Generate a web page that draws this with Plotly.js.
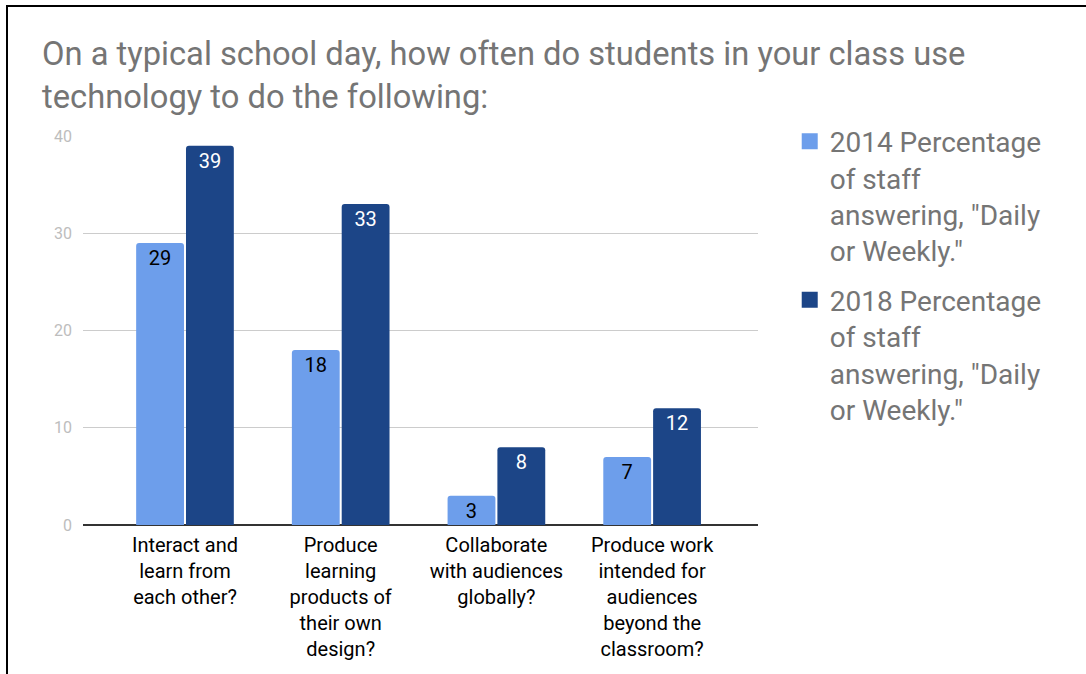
<!DOCTYPE html>
<html>
<head>
<meta charset="utf-8">
<script src="https://cdn.plot.ly/plotly-3.0.1.min.js"></script>
<style>
  html, body { margin: 0; padding: 0; background: #fff; }
  #frame { position: absolute; left: 6px; top: 5px; width: 1080px; height: 669px;
           border-left: 2px solid #000; border-top: 2px solid #000; box-sizing: border-box; }
  #chart { position: absolute; left: 0; top: 0; width: 1086px; height: 674px; }
</style>
</head>
<body>
<div id="chart"></div>
<div id="frame"></div>
<script>
const categories = [
  "Interact and<br>learn from<br>each other?",
  "Produce<br>learning<br>products of<br>their own<br>design?",
  "Collaborate<br>with audiences<br>globally?",
  "Produce work<br>intended for<br>audiences<br>beyond the<br>classroom?"
];
const values2014 = [29, 18, 3, 7];
const values2018 = [39, 33, 8, 12];
const seriesNames = [
  "2014 Percentage<br>of staff<br>answering, \"Daily<br>or Weekly.\"",
  "2018 Percentage<br>of staff<br>answering, \"Daily<br>or Weekly.\""
];
const seriesColors = ["#6d9eeb", "#1c4587"];
const labelColors = ["#000000", "#ffffff"];
const yTicks = [0, 10, 20, 30, 40];

const font = "Roboto, 'Noto Sans', Arial, sans-serif";
const seriesValues = [values2014, values2018];

const traces = [];
seriesValues.forEach((vals, i) => {
  traces.push({
    type: "bar", x: categories, y: vals, name: seriesNames[i],
    showlegend: false,
    marker: { color: seriesColors[i] },
    text: vals.map(String), textposition: "inside", insidetextanchor: "end",
    textangle: 0, constraintext: "none",
    insidetextfont: { family: font, size: 20, color: labelColors[i] },
    hoverinfo: "none"
  });
});
// legend entries (square swatches) for the two series
seriesValues.forEach((vals, i) => {
  traces.push({
    type: "scatter", mode: "markers", x: [null], y: [null],
    name: seriesNames[i], legendgroup: "g" + i, showlegend: true,
    marker: { symbol: "square", size: 20, color: seriesColors[i] },
    hoverinfo: "none"
  });
});

const layout = {
  width: 1086, height: 674,
  margin: { l: 83, r: 328, t: 136, b: 149 },
  paper_bgcolor: "#ffffff", plot_bgcolor: "#ffffff",
  font: { family: font, color: "#757575" },
  title: {
    text: "On a typical school day, how often do students in your class use<br>technology to do the following:",
    font: { family: font, size: 32.7, color: "#757575" },
    x: 42 / 1086, xanchor: "left", xref: "container",
    y: 1 - 65 / 674, yanchor: "top", yref: "container"
  },
  barmode: "group", bargap: 0.36, bargroupgap: 0.04,
  barcornerradius: 3,
  xaxis: {
    type: "category", range: [-0.655, 3.68],
    showgrid: false, showline: false, ticks: "",
    tickfont: { family: font, size: 20, color: "#000000" },
    ticklabelstandoff: 6,
    fixedrange: true
  },
  yaxis: {
    range: [0, 40], tickvals: yTicks, ticktext: yTicks.map(String),
    showgrid: true, gridcolor: "#cccccc", gridwidth: 1,
    zeroline: true, zerolinecolor: "#333333", zerolinewidth: 2,
    showline: false, ticks: "",
    tickfont: { family: font, size: 16, color: "#bdbdbd" },
    ticklabelstandoff: 10,
    fixedrange: true
  },
  legend: {
    x: 1.047, xanchor: "left", y: 1.05, yanchor: "top",
    valign: "top",
    font: { family: font, size: 28, color: "#757575" },
    tracegroupgap: 10, bgcolor: "rgba(0,0,0,0)"
  },
  showlegend: true
};

Plotly.newPlot("chart", traces, layout, { displayModeBar: false, staticPlot: true });
</script>
</body>
</html>
